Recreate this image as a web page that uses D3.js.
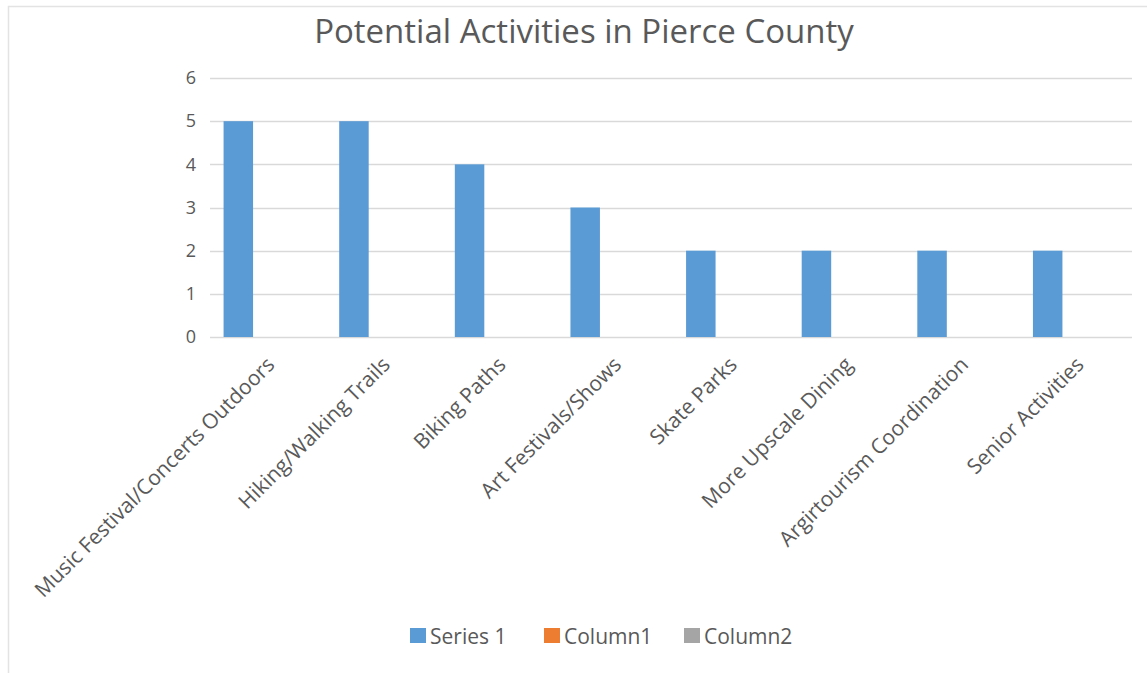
<!DOCTYPE html>
<html>
<head>
<meta charset="utf-8">
<script src="https://cdn.jsdelivr.net/npm/d3@7"></script>
<style>
  html, body { margin: 0; padding: 0; background: #ffffff; }
  svg { display: block; }
  text { font-family: "Open Sans", "Liberation Sans", sans-serif; fill: #595959; }
</style>
</head>
<body>
<svg id="chart" width="1147" height="673"></svg>
<script>
// Survey responses: potential activities in Pierce County
const categories = [
  "Music Festival/Concerts Outdoors",
  "Hiking/Walking Trails",
  "Biking Paths",
  "Art Festivals/Shows",
  "Skate Parks",
  "More Upscale Dining",
  "Argirtourism Coordination",
  "Senior Activities"
];
const seriesNames = ["Series 1", "Column1", "Column2"];
const series1 = [5, 5, 4, 3, 2, 2, 2, 2];
const column1 = [null, null, null, null, null, null, null, null];
const column2 = [null, null, null, null, null, null, null, null];
const yTicks = [0, 1, 2, 3, 4, 5, 6];
const seriesColors = ["#5B9BD5", "#ED7D31", "#A5A5A5"];

const seriesValues = [series1, column1, column2];

const svg = d3.select("#chart");

// outer frame of the chart area
svg.append("rect")
  .attr("x", 8.5).attr("y", 6.5)
  .attr("width", 1150).attr("height", 670)
  .attr("fill", "#ffffff")
  .attr("stroke", "#e3e3e3")
  .attr("stroke-width", 1.5);

const plot = { left: 210, right: 1135, top: 78, bottom: 337 };

const x0 = d3.scaleBand().domain(categories).range([plot.left, plot.right]).paddingInner(0).paddingOuter(0);
const x1 = d3.scaleBand().domain(seriesNames).range([0, x0.bandwidth()]).paddingInner(0).paddingOuter(0.46);
const y = d3.scaleLinear().domain([0, 6]).range([plot.bottom, plot.top]);

// title
svg.append("text")
  .attr("x", 584).attr("y", 43)
  .attr("text-anchor", "middle")
  .style("font-size", "33px")
  .text("Potential Activities in Pierce County");

// horizontal gridlines
svg.append("g")
  .selectAll("line")
  .data(yTicks)
  .join("line")
  .attr("x1", plot.left).attr("x2", plot.right - 3)
  .attr("y1", d => Math.round(y(d)) + 0.5)
  .attr("y2", d => Math.round(y(d)) + 0.5)
  .attr("stroke", "#d9d9d9")
  .attr("stroke-width", 1.5);

// y axis labels
const yAxis = d3.axisLeft(y).tickValues(yTicks).tickSize(0).tickPadding(0).tickFormat(d3.format("d"));
const yg = svg.append("g").attr("transform", `translate(${plot.left - 14},0)`).call(yAxis);
yg.select(".domain").remove();
yg.selectAll("text").style("font-size", "18px").attr("fill", "#595959").style("font-family", '"Open Sans", sans-serif');

// bars
const groups = svg.append("g")
  .selectAll("g")
  .data(categories)
  .join("g")
  .attr("transform", d => `translate(${x0(d)},0)`);

groups.selectAll("rect")
  .data((d, i) => seriesNames.map((s, k) => ({ s, v: seriesValues[k][i], c: seriesColors[k] })).filter(e => e.v != null))
  .join("rect")
  .attr("x", d => x1(d.s))
  .attr("width", x1.bandwidth())
  .attr("y", d => y(d.v))
  .attr("height", d => y(0) - y(d.v))
  .attr("fill", d => d.c);

// rotated category labels
svg.append("g")
  .selectAll("text")
  .data(categories)
  .join("text")
  .attr("text-anchor", "end")
  .attr("transform", d => `translate(${x0(d) + x0.bandwidth() / 2 + 8},366) rotate(-45)`)
  .style("font-size", "21px")
  .text(d => d);

// legend
const legendItems = [
  { name: "Series 1", x: 410 },
  { name: "Column1", x: 544 },
  { name: "Column2", x: 684 }
];
const lg = svg.append("g")
  .selectAll("g")
  .data(legendItems)
  .join("g")
  .attr("transform", d => `translate(${d.x},628)`);
lg.append("rect")
  .attr("width", 16).attr("height", 15)
  .attr("fill", (d, i) => seriesColors[i]);
lg.append("text")
  .attr("x", 20).attr("y", 16)
  .style("font-size", "21px")
  .text(d => d.name);
</script>
</body>
</html>
